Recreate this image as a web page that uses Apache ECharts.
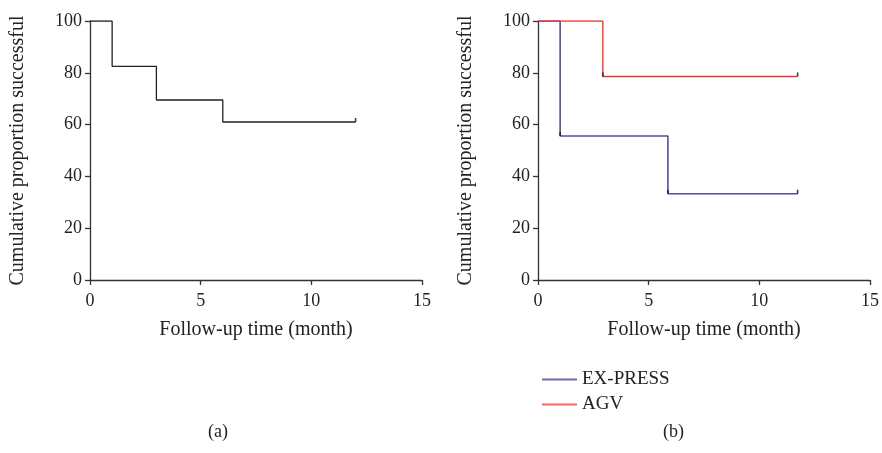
<!DOCTYPE html>
<html>
<head>
<meta charset="UTF-8">
<title>Cumulative proportion successful</title>
<style>
  * { margin: 0; padding: 0; }
  html, body { width: 100%; height: 100%; background: #fff; }
  #chart { width: 882px; height: 453px; }
</style>
</head>
<body>
<div id="chart"></div>
<script src="https://cdn.jsdelivr.net/npm/echarts@6/dist/echarts.min.js"></script>
<script>
// panel (a): overall
var timeA = [0, 1, 3, 6, 12];
var survA = [100, 82.5, 69.5, 61, 61];
var censorA = [[12, 61]];

// panel (b): by group
var timeEx = [0, 1, 5.87, 11.73];
var survEx = [100, 55.6, 33.3, 33.3];
var censorEx = [[1, 55.6], [5.87, 33.3], [11.73, 33.3]];

var timeAgv = [0, 2.93, 11.73];
var survAgv = [100, 78.6, 78.6];
var censorAgv = [[2.93, 78.6], [11.73, 78.6]];

var xTicks = [0, 5, 10, 15];
var yTicks = [0, 20, 40, 60, 80, 100];

function pairs(xs, ys) {
    var out = [];
    for (var i = 0; i < xs.length; i++) out.push([xs[i], ys[i]]);
    return out;
}

var FONT = '"Liberation Serif", "DejaVu Serif", serif';
var axisColor = '#333';

function xAxisOf(idx) {
    return {
        gridIndex: idx, type: 'value', min: xTicks[0], max: xTicks[xTicks.length - 1], interval: 5,
        name: 'Follow-up time (month)', nameLocation: 'middle', nameGap: 40,
        nameTextStyle: { fontFamily: FONT, fontSize: 20, color: '#222' },
        axisLine: { lineStyle: { color: axisColor, width: 1.3 } },
        axisTick: { length: 5, lineStyle: { color: axisColor, width: 1.3 } },
        axisLabel: { fontFamily: FONT, fontSize: 18, color: '#222', margin: 12 },
        splitLine: { show: false }
    };
}
function yAxisOf(idx) {
    return {
        gridIndex: idx, type: 'value', min: yTicks[0], max: yTicks[yTicks.length - 1], interval: 20,
        name: 'Cumulative proportion successful', nameLocation: 'middle', nameGap: 62,
        nameTextStyle: { fontFamily: FONT, fontSize: 20, color: '#222' },
        axisLine: { show: true, lineStyle: { color: axisColor, width: 1.3 } },
        axisTick: { show: true, length: 5, lineStyle: { color: axisColor, width: 1.3 } },
        axisLabel: { fontFamily: FONT, fontSize: 18, color: '#222', margin: 8 },
        splitLine: { show: false }
    };
}

var tickMark = 'path://M0,0 L1,0 L1,4 L0,4 Z';

function censorSeries(name, data, xi) {
    return {
        name: name, type: 'scatter', xAxisIndex: xi, yAxisIndex: xi,
        data: data, symbol: tickMark, symbolSize: [1.6, 4], symbolOffset: [0, -2],
        itemStyle: { color: '#111' }, silent: true, z: 5
    };
}

var chart = echarts.init(document.getElementById('chart'));
chart.setOption({
    animation: false,
    grid: [
        { left: 90, right: 460, top: 21, bottom: 173 },
        { left: 538, right: 12, top: 21, bottom: 173 }
    ],
    xAxis: [xAxisOf(0), xAxisOf(1)],
    yAxis: [yAxisOf(0), yAxisOf(1)],
    legend: {
        data: ['EX-PRESS', 'AGV'], orient: 'vertical', left: 537, top: 365,
        itemWidth: 35, itemHeight: 2, itemGap: 6, icon: 'rect',
        textStyle: { fontFamily: FONT, fontSize: 19, color: '#222' }
    },
    graphic: [
        { type: 'text', left: 208, top: 423, style: { text: '(a)', font: '18px ' + FONT, fill: '#222' } },
        { type: 'text', left: 663, top: 423, style: { text: '(b)', font: '18px ' + FONT, fill: '#222' } }
    ],
    series: [
        {
            name: 'All', type: 'line', step: 'end', xAxisIndex: 0, yAxisIndex: 0,
            data: pairs(timeA, survA), showSymbol: false,
            lineStyle: { color: '#222', width: 1.3 }
        },
        censorSeries('All censored', censorA, 0),
        {
            name: 'EX-PRESS', type: 'line', step: 'end', xAxisIndex: 1, yAxisIndex: 1,
            data: pairs(timeEx, survEx), showSymbol: false,
            color: '#7565b0',
            lineStyle: { color: '#5a4a9e', width: 1.6 }
        },
        {
            name: 'AGV', type: 'line', step: 'end', xAxisIndex: 1, yAxisIndex: 1,
            data: pairs(timeAgv, survAgv), showSymbol: false,
            color: '#f06a60',
            lineStyle: { color: '#ea3a30', width: 1.4 }
        },
        censorSeries('EX-PRESS censored', censorEx, 1),
        censorSeries('AGV censored', censorAgv, 1)
    ]
});
</script>
</body>
</html>
